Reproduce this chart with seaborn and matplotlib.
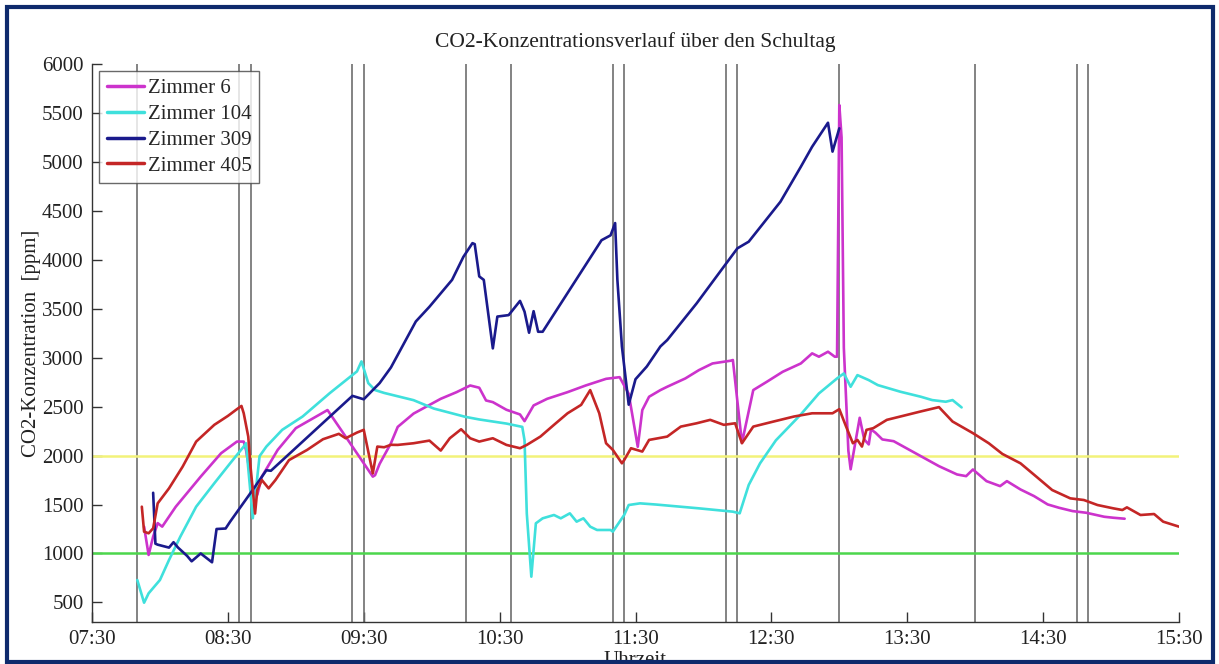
#!/usr/bin/env python3
"""
CO2 concentration over the school day, four rooms, with break markers.
"""
import pandas as pd
import seaborn as sns
import matplotlib
matplotlib.use('Agg')
import matplotlib.pyplot as plt
import matplotlib.dates as mdates
from matplotlib.patches import Rectangle

sns.set_style('white')
plt.rcParams['font.family'] = ['Liberation Serif', 'DejaVu Serif']

# --- data ---
room6_time = ['07:53', '07:55', '07:57', '07:59', '08:01', '08:07', '08:18', '08:27', '08:34', '08:37',
              '08:38', '08:41', '08:43', '08:45', '08:52', '09:00', '09:14', '09:22', '09:34', '09:35',
              '09:37', '09:42', '09:45', '09:52', '10:04', '10:11', '10:17', '10:21', '10:24', '10:27',
              '10:33', '10:39', '10:41', '10:45', '10:51', '11:00', '11:08', '11:17', '11:23', '11:27',
              '11:31', '11:33', '11:36', '11:41', '11:44', '11:52', '11:58', '12:04', '12:12', '12:13',
              '12:17', '12:22', '12:28', '12:35', '12:43', '12:48', '12:51', '12:55', '12:58', '12:59',
              '13:00', '13:01', '13:02', '13:04', '13:05', '13:09', '13:11', '13:13', '13:14', '13:16',
              '13:19', '13:24', '13:36', '13:44', '13:52', '13:56', '13:59', '14:05', '14:11', '14:14',
              '14:20', '14:26', '14:32', '14:37', '14:43', '14:49', '14:57', '15:01', '15:06']
room6_ppm = [1274, 985, 1172, 1310, 1274, 1478, 1785, 2024, 2143, 2143,
             2058, 1650, 1600, 1785, 2058, 2280, 2465, 2194, 1785, 1800,
             1915, 2126, 2293, 2429, 2580, 2648, 2716, 2693, 2563, 2546,
             2468, 2420, 2352, 2512, 2580, 2648, 2716, 2784, 2801, 2631,
             2090, 2465, 2601, 2669, 2703, 2788, 2873, 2941, 2969, 2976,
             2130, 2669, 2754, 2856, 2941, 3044, 3010, 3061, 3010, 3010,
             5581, 5250, 3100, 2050, 1860, 2386, 2165, 2114, 2267, 2233,
             2165, 2147, 1994, 1892, 1807, 1790, 1858, 1739, 1688, 1739,
             1654, 1586, 1501, 1467, 1433, 1416, 1375, 1365, 1355]

room104_time = ['07:50', '07:53', '07:55', '08:00', '08:04', '08:09', '08:16', '08:24', '08:31', '08:37',
                '08:38', '08:41', '08:44', '08:47', '08:54', '09:03', '09:15', '09:27', '09:29', '09:32',
                '09:35', '09:39', '09:52', '10:01', '10:15', '10:21', '10:33', '10:40', '10:41', '10:42',
                '10:44', '10:46', '10:49', '10:54', '10:57', '11:01', '11:04', '11:07', '11:10', '11:13',
                '11:19', '11:20', '11:25', '11:27', '11:32', '11:39', '11:58', '12:13', '12:16', '12:20',
                '12:25', '12:32', '12:43', '12:51', '12:59', '13:02', '13:05', '13:08', '13:13', '13:17',
                '13:27', '13:36', '13:41', '13:47', '13:50', '13:54']
room104_ppm = [729, 497, 593, 729, 933, 1172, 1478, 1717, 1921, 2092,
               2126, 1360, 1994, 2092, 2263, 2399, 2638, 2860, 2962, 2740,
               2669, 2640, 2566, 2480, 2395, 2369, 2327, 2293, 2156, 1408,
               763, 1308, 1359, 1393, 1359, 1410, 1325, 1359, 1274, 1240,
               1240, 1223, 1393, 1495, 1512, 1500, 1461, 1427, 1410, 1700,
               1921, 2156, 2420, 2635, 2788, 2839, 2703, 2822, 2771, 2720,
               2652, 2601, 2567, 2550, 2567, 2492]

room309_time = ['07:57', '07:58', '07:59', '08:04', '08:06', '08:08', '08:12', '08:14', '08:18', '08:23',
                '08:25', '08:29', '08:31', '08:41', '08:47', '08:49', '09:25', '09:30', '09:37', '09:42',
                '09:53', '09:59', '10:09', '10:14', '10:18', '10:19', '10:21', '10:23', '10:27', '10:29',
                '10:34', '10:39', '10:41', '10:43', '10:45', '10:47', '10:49', '11:15', '11:19', '11:21',
                '11:22', '11:24', '11:27', '11:30', '11:35', '11:41', '11:44', '11:57', '12:09', '12:15',
                '12:20', '12:34', '12:43', '12:48', '12:55', '12:57', '13:00']
room309_ppm = [1620, 1100, 1090, 1060, 1115, 1060, 975, 920, 1000, 910,
               1250, 1255, 1325, 1650, 1850, 1845, 2610, 2575, 2740, 2900,
               3370, 3520, 3795, 4030, 4170, 4160, 3830, 3795, 3095, 3420,
               3435, 3580, 3470, 3255, 3475, 3265, 3265, 4200, 4250, 4375,
               3795, 3115, 2520, 2780, 2910, 3115, 3180, 3555, 3930, 4117,
               4185, 4593, 4950, 5155, 5400, 5105, 5343]

room405_time = ['07:52', '07:53', '07:55', '07:57', '07:59', '08:04', '08:10', '08:16', '08:24', '08:30',
                '08:34', '08:36', '08:37', '08:39', '08:40', '08:42', '08:43', '08:45', '08:48', '08:51',
                '08:57', '09:05', '09:12', '09:19', '09:22', '09:27', '09:30', '09:34', '09:36', '09:39',
                '09:42', '09:45', '09:52', '09:59', '10:04', '10:08', '10:13', '10:17', '10:21', '10:27',
                '10:33', '10:39', '10:42', '10:48', '10:54', '11:00', '11:06', '11:10', '11:14', '11:17',
                '11:20', '11:24', '11:25', '11:28', '11:33', '11:36', '11:44', '11:50', '11:57', '12:03',
                '12:09', '12:14', '12:17', '12:22', '12:31', '12:40', '12:48', '12:57', '13:00', '13:03',
                '13:06', '13:08', '13:10', '13:12', '13:15', '13:21', '13:28', '13:36', '13:44', '13:50',
                '13:59', '14:06', '14:12', '14:20', '14:27', '14:34', '14:42', '14:48', '14:54', '15:01',
                '15:05', '15:07', '15:13', '15:19', '15:23', '15:30']
room405_ppm = [1478, 1223, 1206, 1257, 1512, 1665, 1886, 2143, 2314, 2405,
               2474, 2507, 2432, 2194, 1886, 1408, 1648, 1750, 1665, 1750,
               1954, 2058, 2167, 2222, 2177, 2235, 2263, 1818, 2092, 2085,
               2110, 2109, 2126, 2153, 2051, 2177, 2269, 2177, 2143, 2177,
               2109, 2075, 2109, 2194, 2314, 2432, 2518, 2669, 2432, 2126,
               2058, 1921, 1954, 2075, 2041, 2160, 2194, 2296, 2330, 2365,
               2314, 2330, 2126, 2296, 2348, 2399, 2432, 2432, 2474, 2296,
               2126, 2160, 2092, 2263, 2280, 2365, 2405, 2451, 2495, 2348,
               2229, 2126, 2017, 1921, 1785, 1648, 1563, 1546, 1495, 1461,
               1444, 1471, 1393, 1403, 1325, 1274]

rooms = ['Zimmer 6', 'Zimmer 104', 'Zimmer 309', 'Zimmer 405']
room_colors = ['#cc33cc', '#3fe0dc', '#1a1a8c', '#c42626']

# bell times (start/end of lessons and breaks)
bell_times = ['07:50', '08:35', '08:40', '09:25', '09:30', '10:15', '10:35', '11:20',
              '11:25', '12:10', '12:15', '13:00', '14:00', '14:45', '14:50']
limit_ppm = [1000, 2000]
limit_colors = ['#4cd64c', '#f2f27a']

tick_times = ['07:30', '08:30', '09:30', '10:30', '11:30', '12:30', '13:30', '14:30', '15:30']


def to_dt(times):
    return pd.to_datetime(['2000-01-01 ' + t for t in times])


def main():
    frames = []
    for name, t, v in zip(rooms,
                          [room6_time, room104_time, room309_time, room405_time],
                          [room6_ppm, room104_ppm, room309_ppm, room405_ppm]):
        frames.append(pd.DataFrame({'Uhrzeit': to_dt(t), 'ppm': v, 'Raum': name}))
    df = pd.concat(frames, ignore_index=True)

    fig = plt.figure(figsize=(12.19, 6.64), dpi=100)
    ax = fig.add_axes([92 / 1219, 1 - 622 / 664, (1179 - 92) / 1219, (622 - 64) / 664])

    for t in to_dt(bell_times):
        ax.axvline(t, color='#6e6e6e', lw=1.2, zorder=1)
    for v, c in zip(limit_ppm, limit_colors):
        ax.axhline(v, color=c, lw=1.8, zorder=1)

    sns.lineplot(data=df, x='Uhrzeit', y='ppm', hue='Raum', hue_order=rooms,
                 palette=dict(zip(rooms, room_colors)), estimator=None, sort=False,
                 lw=1.9, ax=ax, zorder=3)

    xt = to_dt(tick_times)
    ax.set_xlim(xt[0], xt[-1])
    ax.set_ylim(300, 6000)
    ax.set_xticks(xt)
    ax.xaxis.set_major_formatter(mdates.DateFormatter('%H:%M'))
    ax.set_yticks(range(500, 6001, 500))
    ax.tick_params(direction='in', length=7, width=1, colors='#333333', labelsize=15,
                   labelcolor='#222222', pad=6)
    ax.tick_params(axis='x', top=False, bottom=True)
    ax.tick_params(axis='y', left=True, right=False)
    for s in ['top', 'right']:
        ax.spines[s].set_visible(False)
    for s in ['left', 'bottom']:
        ax.spines[s].set_color('#333333')
        ax.spines[s].set_linewidth(1.0)

    ax.set_title('CO2-Konzentrationsverlauf über den Schultag', fontsize=15.5,
                 color='#222222', pad=12)
    ax.set_xlabel('Uhrzeit', fontsize=15, color='#222222', labelpad=1)
    ax.set_ylabel('CO2-Konzentration  [ppm]', fontsize=15, color='#222222', labelpad=1)

    leg = ax.legend(loc='upper left', fontsize=15, frameon=True, fancybox=False,
                    borderaxespad=0.35, handlelength=1.8, handletextpad=0.2,
                    labelspacing=0.3, borderpad=0.35)
    leg.get_frame().set_edgecolor('#444444')
    leg.get_frame().set_linewidth(1.0)
    for line in leg.get_lines():
        line.set_linewidth(2.5)

    fig.patches.append(Rectangle((7 / 1219, 2 / 664), 1206 / 1219, 655 / 664,
                                 transform=fig.transFigure, fill=False,
                                 ec='#0e2a6c', lw=3, zorder=10))

    fig.savefig('out.png', dpi=100)
    plt.close(fig)


if __name__ == '__main__':
    main()
